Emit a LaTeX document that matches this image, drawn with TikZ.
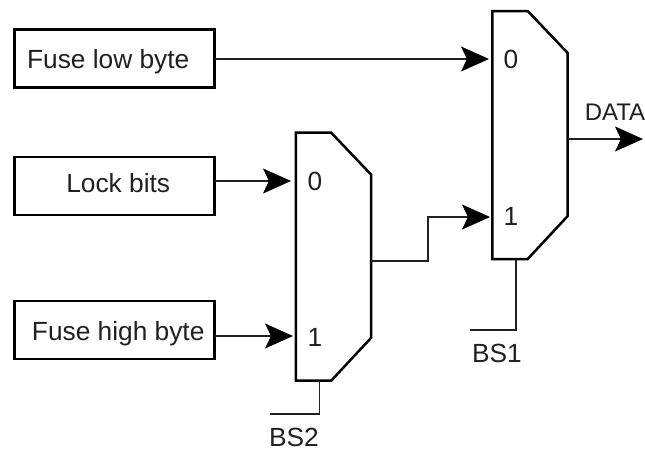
\documentclass[tikz,border=0pt]{standalone}
\usepackage{fontspec}
\setmainfont{Liberation Sans}
\usetikzlibrary{arrows.meta,calc,positioning}
\definecolor{Ink}{HTML}{231F20}
\tikzset{
  srcbox/.style={
    draw=black, line width=2.5pt, fill=white, inner sep=0pt, outer sep=0pt,
    minimum width=200pt, minimum height=58pt
  },
  srctext/.style={text=Ink, inner sep=0pt, text height=19pt, text depth=5pt},
  muxbox/.style={
    inner sep=0pt, outer sep=0pt, minimum width=75.4pt, minimum height=248pt
  },
  muxline/.style={draw=black, line width=2.5pt, line join=miter},
  pintext/.style={text=Ink, inner sep=0pt},
  wire/.style={draw=Ink, line width=1.2pt},
  flow/.style={wire, -{Stealth[length=28pt,width=25pt,inset=6pt,color=black]}}
}
\newcommand{\muxoutline}[1]{
  \draw[muxline] (#1.north west) -- ($(#1.north east)+(-40,0)$) -- ($(#1.north east)+(0,42)$)
    -- ($(#1.south east)+(0,-43)$) -- ($(#1.south east)+(-40,0)$) -- (#1.south west) -- cycle;
}
\begin{document}
\begin{tikzpicture}[x=1pt,y=-1pt,font=\fontsize{26.3pt}{30pt}\selectfont]
  \useasboundingbox (0,0) rectangle (645,450);
  \node[srcbox,label={[srctext,xshift=-6.5pt,yshift=-2.8pt]center:Fuse low byte}] (fuselow) at (114.7,58.5) {};
  \node[srcbox,below=69.5pt of fuselow,label={[srctext,xshift=3.5pt,yshift=1pt]center:Lock bits}] (lockbits) {};
  \node[srcbox,below=86pt of lockbits,label={[srctext,xshift=3.5pt,yshift=-3.4pt]center:Fuse high byte}] (fusehigh) {};
  \node[muxbox] (muxone) at (530,135) {};
  \node[muxbox] (muxtwo) at (333.5,256.7) {};
  \muxoutline{muxone}
  \muxoutline{muxtwo}
  % pins
  \node[pintext] (oneA) at (511,59) {0};
  \node[pintext] (oneB) at (511,216) {1};
  \node[pintext] (twoA) at (315,181) {0};
  \node[pintext] (twoB) at (315,337) {1};
  \coordinate (inoneA) at (489,59);
  \coordinate (inoneB) at (490,217);
  \coordinate (intwoA) at (291,181);
  \coordinate (intwoB) at (293,336);
  \coordinate (dataend) at (643,139);
  \coordinate (midbend) at (428,261);
  \coordinate (oneturn) at (516,330);
  \coordinate (oneend) at (470,330);
  \coordinate (twoturn) at (319.5,414);
  \coordinate (twoend) at (270,414);
  \node[pintext,font=\fontsize{24pt}{28pt}\selectfont] (data) at (615,112) {DATA};
  \node[pintext] (bsone) at (497,353) {BS1};
  \node[pintext] (bstwo) at (294,437) {BS2};
  \draw[flow] (fuselow.east |- inoneA) -- (inoneA);
  \draw[flow] (lockbits.east |- intwoA) -- (intwoA);
  \draw[flow] (fusehigh.east |- intwoB) -- (intwoB);
  \draw[flow] (muxone.east |- dataend) -- (dataend);
  \draw[flow] (muxtwo.east |- midbend) -- (midbend) |- (inoneB);
  \draw[wire] (oneturn |- muxone.south) -- (oneturn) -- (oneend);
  \draw[wire] (twoturn |- muxtwo.south) -- (twoturn) -- (twoend);
\end{tikzpicture}
\end{document}
